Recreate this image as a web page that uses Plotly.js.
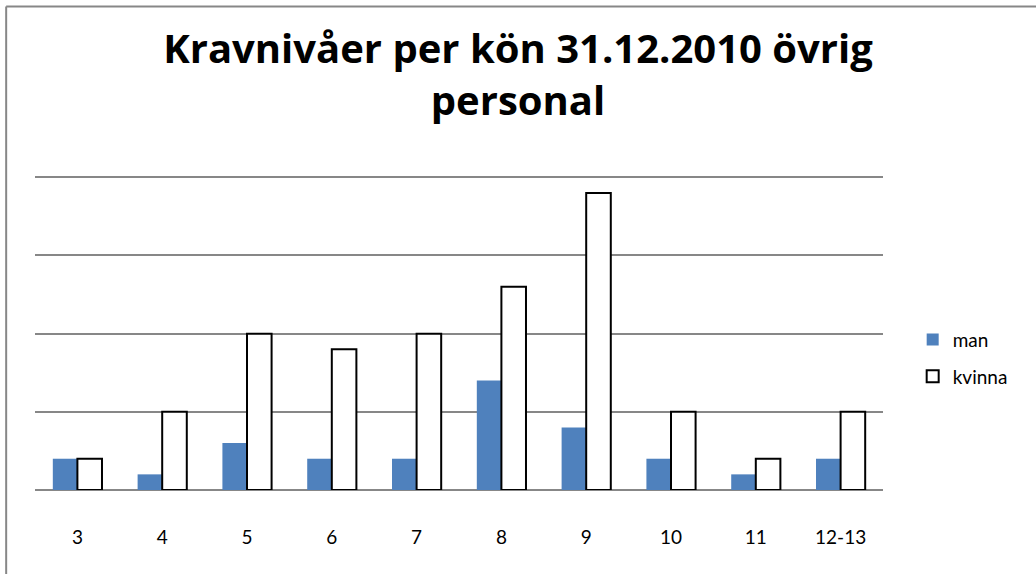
<!DOCTYPE html>
<html>
<head>
<meta charset="utf-8">
<script src="https://cdn.plot.ly/plotly-3.0.1.min.js"></script>
<style>
  html, body { margin: 0; padding: 0; background: white; }
  #graph { width: 1036px; height: 574px; }
</style>
</head>
<body>
<div id="graph"></div>
<script>
// Kravnivåer (requirement levels) on the x axis
const levels = ['3', '4', '5', '6', '7', '8', '9', '10', '11', '12-13'];
const manCounts = [2, 1, 3, 2, 2, 7, 4, 2, 1, 2];
const kvinnaCounts = [2, 5, 10, 9, 10, 13, 19, 5, 2, 5];

const gridGray = '#878787';

const manTrace = {
    x: levels,
    y: manCounts,
    type: 'bar',
    name: 'man',
    legendgroup: 'a',
    marker: { color: '#4F81BD', line: { width: 0 } },
    hoverinfo: 'x+y+name',
};

const kvinnaTrace = {
    x: levels,
    y: kvinnaCounts,
    type: 'bar',
    name: 'kvinna',
    legendgroup: 'b',
    marker: { color: 'white', line: { color: 'black', width: 2 } },
    hoverinfo: 'x+y+name',
};

const layout = {
    width: 1036,
    height: 574,
    margin: { l: 35, r: 153, t: 176, b: 84 },
    paper_bgcolor: 'white',
    plot_bgcolor: 'white',
    font: { family: 'Lato, "Open Sans", sans-serif', color: 'black', size: 19 },
    title: {
        text: 'Kravnivåer per kön 31.12.2010 övrig<br>personal',
        font: { family: '"Open Sans", Lato, sans-serif', size: 40, weight: 'bold', color: 'black' },
        x: 0.5,
        xanchor: 'center',
        y: 0.891,
        yanchor: 'top',
    },
    barmode: 'group',
    bargap: 0.42,
    bargroupgap: 0,
    xaxis: {
        type: 'category',
        showgrid: false,
        showline: false,
        ticks: '',
        ticklabelstandoff: 34,
        tickfont: { size: 19 },
    },
    yaxis: {
        range: [0, 20.08],
        dtick: 5,
        showticklabels: false,
        showgrid: true,
        gridcolor: gridGray,
        gridwidth: 2,
        zeroline: true,
        zerolinecolor: gridGray,
        zerolinewidth: 2,
        showline: false,
    },
    legend: {
        x: 1.035,
        xanchor: 'left',
        y: 0.42,
        yanchor: 'middle',
        tracegroupgap: 9,
        font: { size: 19 },
        bgcolor: 'rgba(0,0,0,0)',
    },
    showlegend: true,
    shapes: [
        // chart frame (left and top edges, the rest is cropped away)
        { type: 'line', xref: 'paper', yref: 'paper', x0: -0.034, x1: -0.034, y0: -0.4, y1: 1.54,
          line: { color: gridGray, width: 2 } },
        { type: 'line', xref: 'paper', yref: 'paper', x0: -0.034, x1: 1.3, y0: 1.54, y1: 1.54,
          line: { color: gridGray, width: 2 } },
    ],
};

Plotly.newPlot('graph', [manTrace, kvinnaTrace], layout, { displayModeBar: false });
</script>
</body>
</html>
